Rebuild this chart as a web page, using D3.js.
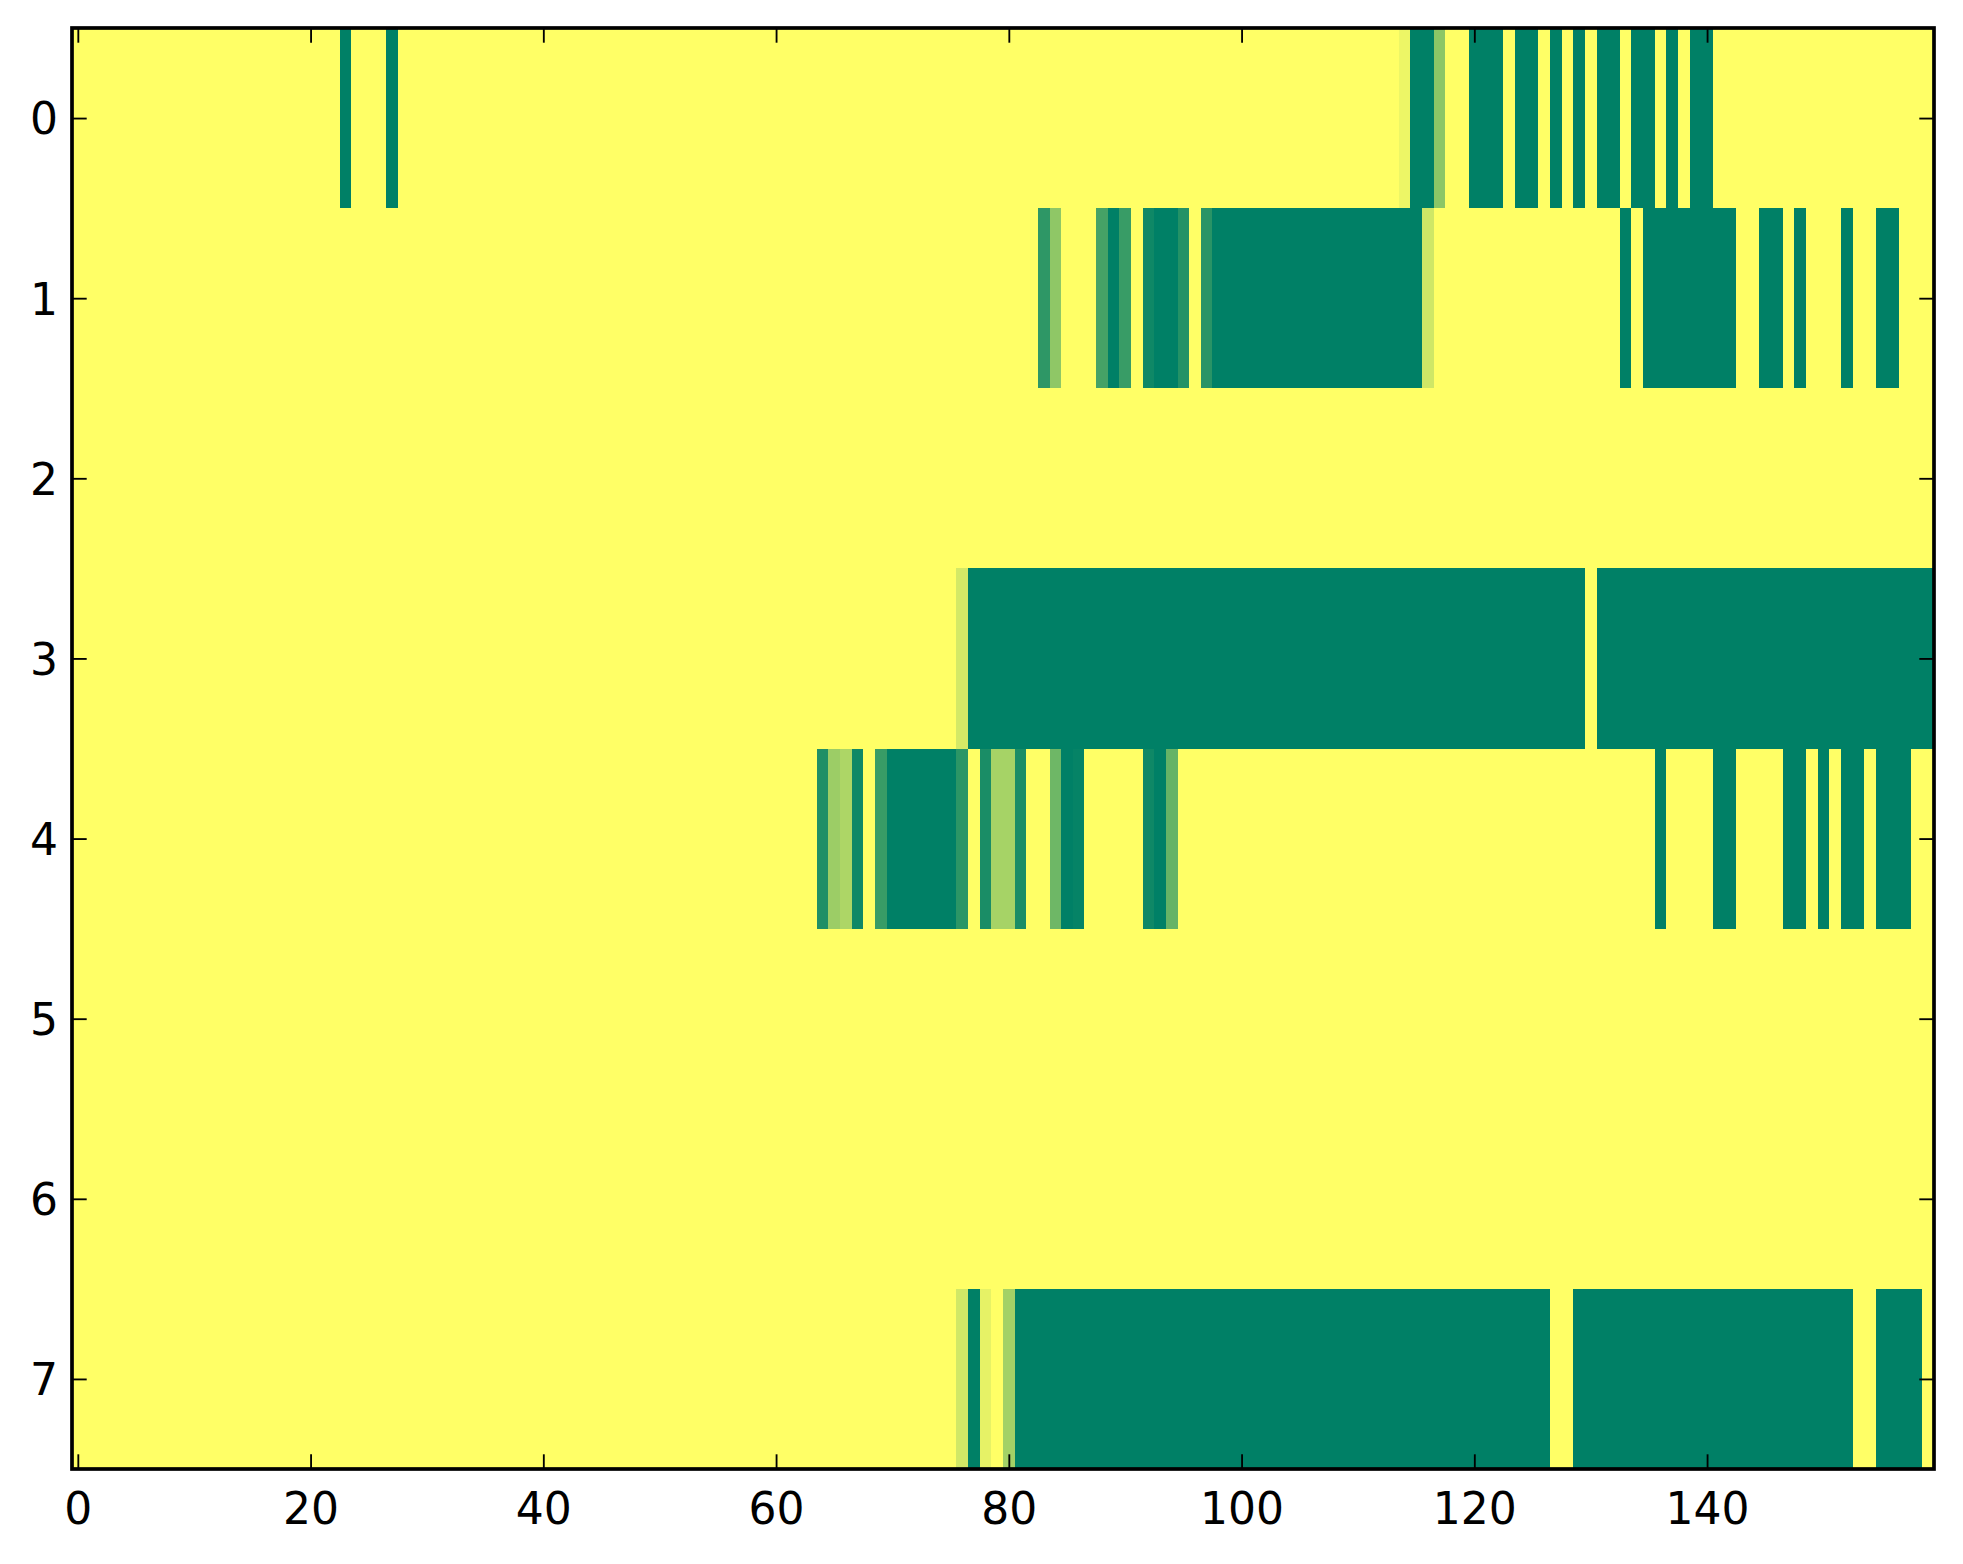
<!DOCTYPE html>
<meta charset="utf-8">
<script src="https://cdn.jsdelivr.net/npm/d3@7"></script>
<style>
  body { margin: 0; background: #fff; }
  text { font-family: "DejaVu Sans", sans-serif; }
</style>
<body>
<script>

// one array per row, 160 columns each (value 0 = yellow, 1 = dark green)
var row0 = [
  0,0,0,0,0,0,0,0,0,0,0,0,0,0,0,0,0,0,0,0,
  0,0,0,1,0,0,0,1,0,0,0,0,0,0,0,0,0,0,0,0,
  0,0,0,0,0,0,0,0,0,0,0,0,0,0,0,0,0,0,0,0,
  0,0,0,0,0,0,0,0,0,0,0,0,0,0,0,0,0,0,0,0,
  0,0,0,0,0,0,0,0,0,0,0,0,0,0,0,0,0,0,0,0,
  0,0,0,0,0,0,0,0,0,0,0,0,0,0,.07,1,1,.45,0,0,
  1,1,1,0,1,1,0,1,0,1,0,1,1,0,1,1,0,1,0,1,
  1,0,0,0,0,0,0,0,0,0,0,0,0,0,0,0,0,0,0,0
]
var row1 = [
  0,0,0,0,0,0,0,0,0,0,0,0,0,0,0,0,0,0,0,0,
  0,0,0,0,0,0,0,0,0,0,0,0,0,0,0,0,0,0,0,0,
  0,0,0,0,0,0,0,0,0,0,0,0,0,0,0,0,0,0,0,0,
  0,0,0,0,0,0,0,0,0,0,0,0,0,0,0,0,0,0,0,0,
  0,0,0,.82,.44,0,0,0,.73,1,.78,0,.94,1,1,.86,0,.84,1,1,
  1,1,1,1,1,1,1,1,1,1,1,1,1,1,1,1,.19,0,0,0,
  0,0,0,0,0,0,0,0,0,0,0,0,0,1,0,1,1,1,1,1,
  1,1,1,0,0,1,1,0,1,0,0,0,1,0,0,1,1,0,0,0
]
var row2 = [
  0,0,0,0,0,0,0,0,0,0,0,0,0,0,0,0,0,0,0,0,
  0,0,0,0,0,0,0,0,0,0,0,0,0,0,0,0,0,0,0,0,
  0,0,0,0,0,0,0,0,0,0,0,0,0,0,0,0,0,0,0,0,
  0,0,0,0,0,0,0,0,0,0,0,0,0,0,0,0,0,0,0,0,
  0,0,0,0,0,0,0,0,0,0,0,0,0,0,0,0,0,0,0,0,
  0,0,0,0,0,0,0,0,0,0,0,0,0,0,0,0,0,0,0,0,
  0,0,0,0,0,0,0,0,0,0,0,0,0,0,0,0,0,0,0,0,
  0,0,0,0,0,0,0,0,0,0,0,0,0,0,0,0,0,0,0,0
]
var row3 = [
  0,0,0,0,0,0,0,0,0,0,0,0,0,0,0,0,0,0,0,0,
  0,0,0,0,0,0,0,0,0,0,0,0,0,0,0,0,0,0,0,0,
  0,0,0,0,0,0,0,0,0,0,0,0,0,0,0,0,0,0,0,0,
  0,0,0,0,0,0,0,0,0,0,0,0,0,0,0,0,.17,1,1,1,
  1,1,1,1,1,1,1,1,1,1,1,1,1,1,1,1,1,1,1,1,
  1,1,1,1,1,1,1,1,1,1,1,1,1,1,1,1,1,1,1,1,
  1,1,1,1,1,1,1,1,1,1,0,1,1,1,1,1,1,1,1,1,
  1,1,1,1,1,1,1,1,1,1,1,1,1,1,1,1,1,1,1,1
]
var row4 = [
  0,0,0,0,0,0,0,0,0,0,0,0,0,0,0,0,0,0,0,0,
  0,0,0,0,0,0,0,0,0,0,0,0,0,0,0,0,0,0,0,0,
  0,0,0,0,0,0,0,0,0,0,0,0,0,0,0,0,0,0,0,0,
  0,0,0,0,.88,.39,.32,.94,0,.78,1,1,1,1,1,1,.83,0,.9,.35,
  .35,.9,0,0,.57,1,.98,0,0,0,0,0,.94,1,.6,0,0,0,0,0,
  0,0,0,0,0,0,0,0,0,0,0,0,0,0,0,0,0,0,0,0,
  0,0,0,0,0,0,0,0,0,0,0,0,0,0,0,0,1,0,0,0,
  0,1,1,0,0,0,0,1,1,0,1,0,1,1,0,1,1,1,0,0
]
var row5 = [
  0,0,0,0,0,0,0,0,0,0,0,0,0,0,0,0,0,0,0,0,
  0,0,0,0,0,0,0,0,0,0,0,0,0,0,0,0,0,0,0,0,
  0,0,0,0,0,0,0,0,0,0,0,0,0,0,0,0,0,0,0,0,
  0,0,0,0,0,0,0,0,0,0,0,0,0,0,0,0,0,0,0,0,
  0,0,0,0,0,0,0,0,0,0,0,0,0,0,0,0,0,0,0,0,
  0,0,0,0,0,0,0,0,0,0,0,0,0,0,0,0,0,0,0,0,
  0,0,0,0,0,0,0,0,0,0,0,0,0,0,0,0,0,0,0,0,
  0,0,0,0,0,0,0,0,0,0,0,0,0,0,0,0,0,0,0,0
]
var row6 = [
  0,0,0,0,0,0,0,0,0,0,0,0,0,0,0,0,0,0,0,0,
  0,0,0,0,0,0,0,0,0,0,0,0,0,0,0,0,0,0,0,0,
  0,0,0,0,0,0,0,0,0,0,0,0,0,0,0,0,0,0,0,0,
  0,0,0,0,0,0,0,0,0,0,0,0,0,0,0,0,0,0,0,0,
  0,0,0,0,0,0,0,0,0,0,0,0,0,0,0,0,0,0,0,0,
  0,0,0,0,0,0,0,0,0,0,0,0,0,0,0,0,0,0,0,0,
  0,0,0,0,0,0,0,0,0,0,0,0,0,0,0,0,0,0,0,0,
  0,0,0,0,0,0,0,0,0,0,0,0,0,0,0,0,0,0,0,0
]
var row7 = [
  0,0,0,0,0,0,0,0,0,0,0,0,0,0,0,0,0,0,0,0,
  0,0,0,0,0,0,0,0,0,0,0,0,0,0,0,0,0,0,0,0,
  0,0,0,0,0,0,0,0,0,0,0,0,0,0,0,0,0,0,0,0,
  0,0,0,0,0,0,0,0,0,0,0,0,0,0,0,0,.18,1,.1,0,
  .36,1,1,1,1,1,1,1,1,1,1,1,1,1,1,1,1,1,1,1,
  1,1,1,1,1,1,1,1,1,1,1,1,1,1,1,1,1,1,1,1,
  1,1,1,1,1,1,1,0,0,1,1,1,1,1,1,1,1,1,1,1,
  1,1,1,1,1,1,1,1,1,1,1,1,1,0,0,1,1,1,1,0
]

var rows = [row0, row1, row2, row3, row4, row5, row6, row7]
var xTicks = [0, 20, 40, 60, 80, 100, 120, 140]
var yTicks = [0, 1, 2, 3, 4, 5, 6, 7]

var width = 1963
var height = 1564
var plotLeft = 72, plotRight = 1934, plotTop = 28, plotBottom = 1469
var tickLen = 14.7

var x = d3.scaleLinear().domain([-0.5, 159.5]).range([plotLeft, plotRight])
var y = d3.scaleLinear().domain([-0.5, 7.5]).range([plotTop, plotBottom])
// summer_r: yellow at 0, green at 1
var color = d3.scaleSequential(d3.interpolateRgb("#ffff66", "#008066")).domain([0, 1])

var svg = d3.select("body").append("svg")
            .attr("width", width)
            .attr("height", height)

var cells = []
rows.forEach(function(r, i) {
  r.forEach(function(v, j) { cells.push({row: i, col: j, v: v}) })
})

svg.append("g").attr("id", "cells")
   .selectAll("rect")
   .data(cells)
   .enter().append("rect")
   .attr("x", d => x(d.col - 0.5))
   .attr("y", d => y(d.row - 0.5))
   .attr("width", x(1) - x(0) + 0.4)
   .attr("height", y(1) - y(0) + 0.4)
   .attr("shape-rendering", "crispEdges")
   .style("fill", d => color(d.v))

function style_axis(g) {
  g.select(".domain").remove()
  g.selectAll(".tick line").style("stroke", "#000").style("stroke-width", 1.85)
  g.selectAll(".tick text").style("font-size", "44px").style("fill", "#000")
}

svg.append("g")
   .attr("transform", "translate(0," + plotBottom + ")")
   .call(d3.axisBottom(x).tickValues(xTicks).tickSize(-tickLen).tickPadding(24))
   .call(style_axis)

svg.append("g")
   .attr("transform", "translate(0," + plotTop + ")")
   .call(d3.axisTop(x).tickValues(xTicks).tickSize(-tickLen).tickFormat(""))
   .call(style_axis)

svg.append("g")
   .attr("transform", "translate(" + plotLeft + ",0)")
   .call(d3.axisLeft(y).tickValues(yTicks).tickSize(-tickLen).tickPadding(14))
   .call(style_axis)
   .selectAll(".tick text").attr("dy", "0.36em")

svg.append("g")
   .attr("transform", "translate(" + plotRight + ",0)")
   .call(d3.axisRight(y).tickValues(yTicks).tickSize(-tickLen).tickFormat(""))
   .call(style_axis)

svg.append("rect")
   .attr("x", plotLeft)
   .attr("y", plotTop)
   .attr("width", plotRight - plotLeft)
   .attr("height", plotBottom - plotTop)
   .style("fill", "none")
   .style("stroke", "#000")
   .style("stroke-width", 3.7)

</script>
</body>
